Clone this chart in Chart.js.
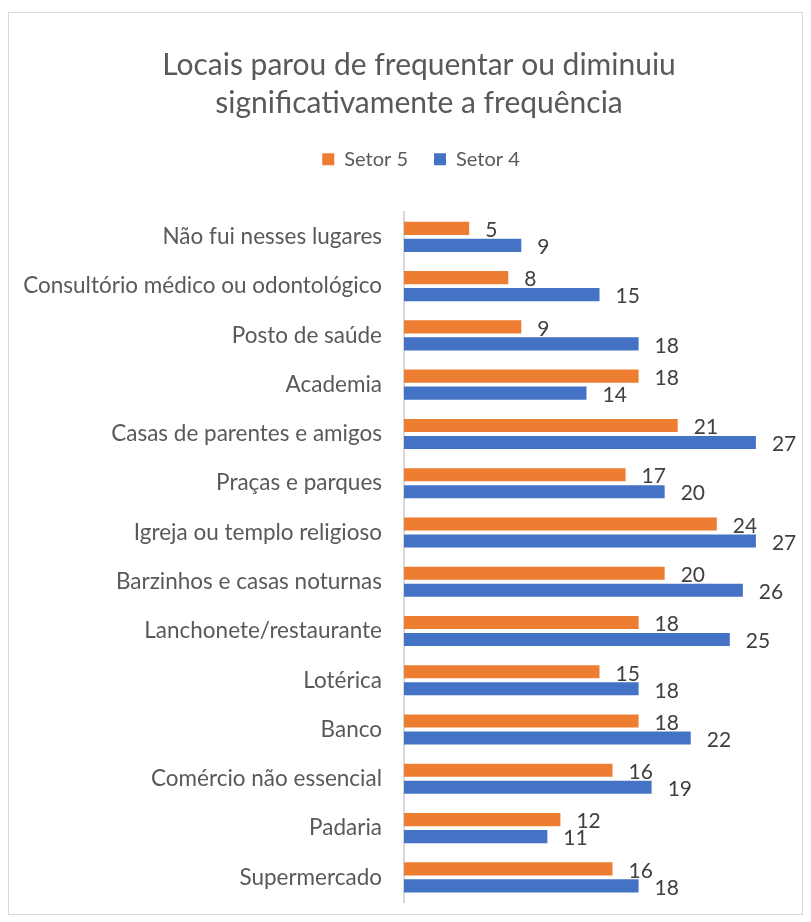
<!DOCTYPE html>
<html>
<head>
<meta charset="utf-8">
<script src="https://cdn.jsdelivr.net/npm/chart.js@4"></script>
<style>
  body { margin: 0; background: #fff; }
  #box {
    position: absolute; left: 8px; top: 12px;
    width: 793px; height: 901px;
    border: 1px solid #d9d9d9; background: #fff;
  }
</style>
</head>
<body>
<div id="box"><canvas id="chart" width="793" height="901"></canvas></div>
<script>
const categories = [
  'Não fui nesses lugares',
  'Consultório médico ou odontológico',
  'Posto de saúde',
  'Academia',
  'Casas de parentes e amigos',
  'Praças e parques',
  'Igreja ou templo religioso',
  'Barzinhos e casas noturnas',
  'Lanchonete/restaurante',
  'Lotérica',
  'Banco',
  'Comércio não essencial',
  'Padaria',
  'Supermercado'
];
const setor5 = [5, 8, 9, 18, 21, 17, 24, 20, 18, 15, 18, 16, 12, 16];
const setor4 = [9, 15, 18, 14, 27, 20, 27, 26, 25, 18, 22, 19, 11, 18];
const titleLines = ['Locais parou de frequentar ou diminuiu', 'significativamente a frequência'];

const FONT = 'Lato, "Liberation Sans", sans-serif';

// rótulos de dados no fim de cada barra
const barLabels = {
  id: 'barLabels',
  afterLayout(chart) {
    // título e legenda ficam um pouco à direita do centro, como no original
    if (chart.titleBlock) chart.titleBlock.left += 34;
    if (chart.legend) chart.legend.left += 38;
  },
  afterDatasetsDraw(chart) {
    const ctx = chart.ctx;
    ctx.save();
    ctx.font = '21px ' + FONT;
    ctx.fillStyle = '#404040';
    ctx.textAlign = 'left';
    ctx.textBaseline = 'middle';
    chart.data.datasets.forEach((ds, i) => {
      chart.getDatasetMeta(i).data.forEach((bar, j) => {
        ctx.fillText(String(ds.data[j]), bar.x + 16, bar.y + 2);
      });
    });
    ctx.restore();
  }
};

new Chart(document.getElementById('chart'), {
  type: 'bar',
  data: {
    labels: categories,
    datasets: [
      { label: 'Setor 5', data: setor5, backgroundColor: '#ED7D31' },
      { label: 'Setor 4', data: setor4, backgroundColor: '#4472C4' }
    ]
  },
  options: {
    indexAxis: 'y',
    responsive: false,
    animation: false,
    categoryPercentage: 0.69,
    barPercentage: 0.77,
    layout: { padding: { left: 0, right: 7, top: 0, bottom: 12 } },
    plugins: {
      title: {
        display: true,
        text: titleLines,
        color: '#595959',
        font: { family: FONT, size: 30, weight: 'normal', lineHeight: 1.27 },
        padding: { top: 33, bottom: 1 }
      },
      legend: {
        display: true,
        position: 'top',
        labels: {
          color: '#595959',
          font: { family: FONT, size: 20 },
          boxWidth: 12,
          boxHeight: 12,
          padding: 26
        }
      },
      tooltip: { enabled: false }
    },
    scales: {
      x: {
        position: 'top',
        min: 0,
        max: 30,
        grid: { display: false },
        border: { display: false },
        ticks: { display: false },
        // espaço vazio entre a legenda e as barras
        afterFit(scale) { scale.height = 33; }
      },
      y: {
        grid: { display: false, drawTicks: false },
        border: { display: true, color: '#d9d9d9', width: 2 },
        ticks: { color: '#595959', font: { family: FONT, size: 22.5 }, padding: 22, autoSkip: false },
        afterFit(scale) {
          scale.width = 395;
          scale.paddingTop = 0;
          scale.paddingBottom = 0;
        }
      }
    }
  },
  plugins: [barLabels]
});
</script>
</body>
</html>
